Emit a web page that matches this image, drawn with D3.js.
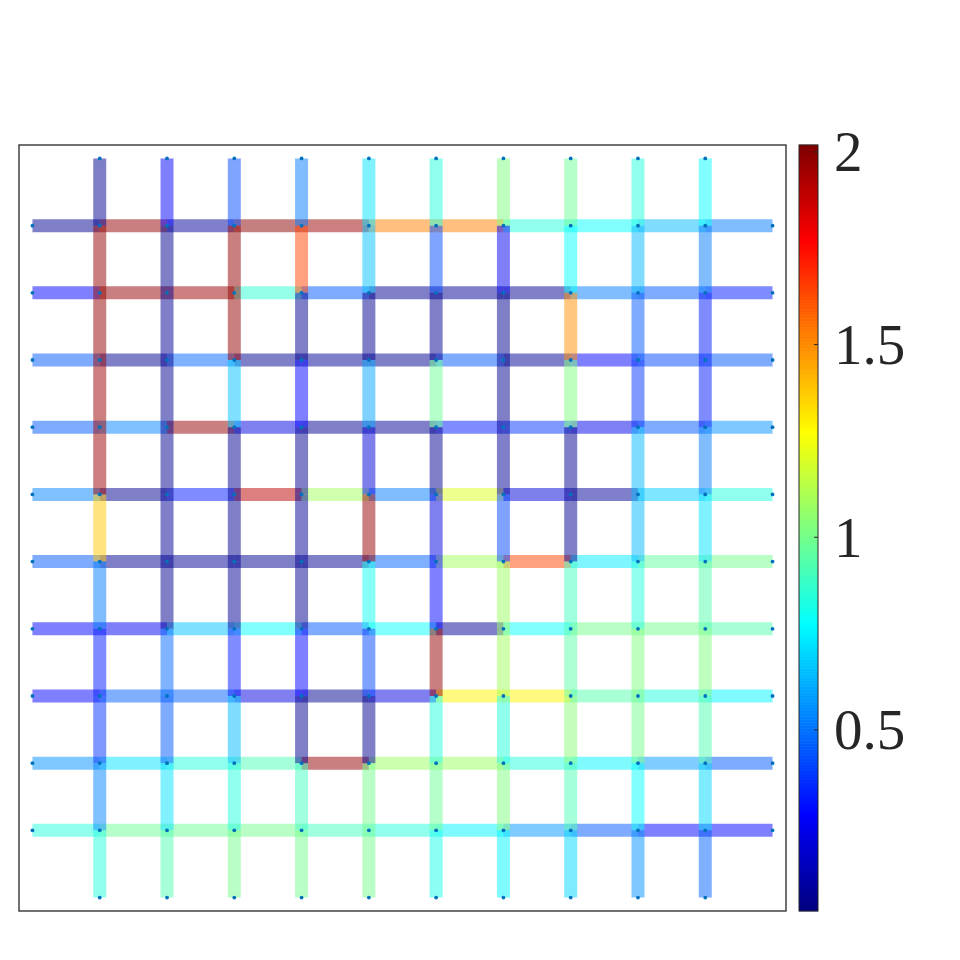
<!DOCTYPE html>
<html><head><meta charset="utf-8">
<script src="https://cdn.jsdelivr.net/npm/d3@7"></script>
<style>body{margin:0;background:#fff}svg{display:block}</style></head>
<body><svg id="chart" width="960" height="960"></svg>
<script>
// Horizontal segments: row r (y = r), segment c goes from x = c to x = c+1
const hRow1  = [0.06, 1.98, 0.08, 1.99, 1.97, 1.52, 1.52, 0.84, 0.78, 0.64, 0.52];
const hRow2  = [0.28, 1.98, 1.97, 0.86, 0.45, 0.06, 0.07, 0.06, 0.52, 0.45, 0.33];
const hRow3  = [0.45, 0.06, 0.48, 0.06, 0.07, 0.06, 0.45, 0.07, 0.28, 0.41, 0.45];
const hRow4  = [0.45, 0.53, 1.98, 0.22, 0.06, 0.07, 0.33, 0.38, 0.24, 0.45, 0.56];
const hRow5  = [0.53, 0.06, 0.33, 1.90, 1.09, 0.52, 1.21, 0.20, 0.08, 0.68, 0.84];
const hRow6  = [0.45, 0.06, 0.07, 0.06, 0.06, 0.47, 1.09, 1.64, 0.74, 0.96, 1.00];
const hRow7  = [0.28, 0.26, 0.66, 0.78, 0.45, 0.78, 0.07, 0.78, 1.00, 1.00, 0.94];
const hRow8  = [0.28, 0.47, 0.47, 0.22, 0.06, 0.22, 1.29, 1.29, 0.94, 0.84, 0.76];
const hRow9  = [0.56, 0.72, 0.84, 0.92, 1.98, 1.08, 1.08, 0.84, 0.76, 0.58, 0.45];
const hRow10 = [0.84, 0.98, 0.98, 1.00, 0.90, 0.84, 0.76, 0.57, 0.45, 0.28, 0.28];
// Vertical segments: column k (x = k), segment j goes from y = j to y = j+1
const vCol1  = [0.06, 1.98, 1.98, 1.97, 1.97, 1.38, 0.52, 0.33, 0.37, 0.54, 0.84];
const vCol2  = [0.28, 0.06, 0.07, 0.06, 0.06, 0.07, 0.06, 0.48, 0.45, 0.72, 0.93];
const vCol3  = [0.42, 1.98, 1.98, 0.66, 0.06, 0.06, 0.07, 0.33, 0.64, 0.84, 1.00];
const vCol4  = [0.52, 1.64, 0.06, 0.28, 0.06, 0.07, 0.06, 0.28, 0.06, 0.90, 1.00];
const vCol5  = [0.72, 0.66, 0.06, 0.60, 0.20, 1.98, 0.80, 0.41, 0.06, 1.00, 1.00];
const vCol6  = [0.84, 0.42, 0.06, 0.98, 0.06, 0.22, 0.28, 1.98, 0.84, 0.98, 0.82];
const vCol7  = [1.02, 0.25, 0.06, 0.06, 0.08, 0.41, 1.08, 1.09, 0.84, 1.02, 0.76];
const vCol8  = [0.98, 0.78, 1.49, 1.02, 0.06, 0.06, 0.90, 0.95, 1.04, 0.92, 0.70];
const vCol9  = [0.84, 0.64, 0.45, 0.38, 0.64, 0.64, 0.84, 1.02, 1.00, 0.78, 0.56];
const vCol10 = [0.78, 0.52, 0.33, 0.33, 0.52, 0.72, 0.94, 1.02, 0.93, 0.70, 0.47];

const hRows = [hRow1, hRow2, hRow3, hRow4, hRow5, hRow6, hRow7, hRow8, hRow9, hRow10];
const vCols = [vCol1, vCol2, vCol3, vCol4, vCol5, vCol6, vCol7, vCol8, vCol9, vCol10];
const cbTicks = [0.5, 1, 1.5, 2];
const cMin = 0.03, cMax = 2.018;

const svg = d3.select("#chart");
const box = {x0: 19, x1: 786, y0: 145, y1: 911};
const x = d3.scaleLinear().domain([-0.2, 11.2]).range([box.x0, box.x1]);
const y = d3.scaleLinear().domain([-0.2, 11.2]).range([box.y0, box.y1]);
const clamp = v => Math.max(0, Math.min(1, v));
function jet(t) {
  t = clamp(t);
  const r = clamp(1.5 - Math.abs(4 * t - 3));
  const g = clamp(1.5 - Math.abs(4 * t - 2));
  const b = clamp(1.5 - Math.abs(4 * t - 1));
  return d3.rgb(r * 255, g * 255, b * 255).formatHex();
}
const cnorm = d3.scaleLinear().domain([cMin, cMax]).range([0, 1]);
const color = v => jet(cnorm(v));

svg.append("rect").attr("x", box.x0).attr("y", box.y0)
  .attr("width", box.x1 - box.x0).attr("height", box.y1 - box.y0)
  .attr("fill", "#fff");

const segs = [];
hRows.forEach((row, ri) => row.forEach((v, c) => segs.push({x1: c, y1: ri + 1, x2: c + 1, y2: ri + 1, v})));
vCols.forEach((col, ki) => col.forEach((v, j) => segs.push({x1: ki + 1, y1: j, x2: ki + 1, y2: j + 1, v})));

svg.append("g").selectAll("line").data(segs).join("line")
  .attr("x1", d => x(d.x1)).attr("y1", d => y(d.y1))
  .attr("x2", d => x(d.x2)).attr("y2", d => y(d.y2))
  .attr("stroke", d => color(d.v))
  .attr("stroke-opacity", 0.5)
  .attr("stroke-width", 13)
  .attr("stroke-linecap", "butt");

const nodes = [];
for (let i = 1; i <= 10; i++) {
  for (let j = 1; j <= 10; j++) nodes.push([i, j]);
  nodes.push([0, i], [11, i], [i, 0], [i, 11]);
}
svg.append("g").selectAll("circle").data(nodes).join("circle")
  .attr("cx", d => x(d[0])).attr("cy", d => y(d[1])).attr("r", 1.9)
  .attr("fill", "#0072BD");

svg.append("rect").attr("x", box.x0).attr("y", box.y0)
  .attr("width", box.x1 - box.x0).attr("height", box.y1 - box.y0)
  .attr("fill", "none").attr("stroke", "#262626").attr("stroke-width", 1.3);

// colorbar
const cb = {x0: 799, x1: 818};
const cy = d3.scaleLinear().domain([cMin, cMax]).range([box.y1, box.y0]);
const nSteps = 256;
const stepV = (cMax - cMin) / nSteps;
const steps = d3.range(nSteps).map(i => cMin + stepV * i);
svg.append("g").selectAll("rect").data(steps).join("rect")
  .attr("x", cb.x0).attr("width", cb.x1 - cb.x0)
  .attr("y", d => cy(d + stepV) - 0.3)
  .attr("height", d => cy(d) - cy(d + stepV) + 0.6)
  .attr("fill", d => color(d + stepV / 2));
svg.append("rect").attr("x", cb.x0).attr("y", box.y0)
  .attr("width", cb.x1 - cb.x0).attr("height", box.y1 - box.y0)
  .attr("fill", "none").attr("stroke", "#262626").attr("stroke-width", 1);
const tg = svg.append("g").selectAll("g").data(cbTicks).join("g");
tg.append("line").attr("x1", cb.x1 - 4).attr("x2", cb.x1)
  .attr("y1", d => cy(d)).attr("y2", d => cy(d))
  .attr("stroke", "#262626").attr("stroke-width", 1);
tg.append("text").attr("x", 834).attr("y", d => cy(d)).attr("dy", "0.34em")
  .attr("font-family", "'Liberation Serif','Times New Roman',Times,serif")
  .attr("font-size", 57).attr("fill", "#262626")
  .text(d => d3.format("")(d));
</script>
</body></html>
